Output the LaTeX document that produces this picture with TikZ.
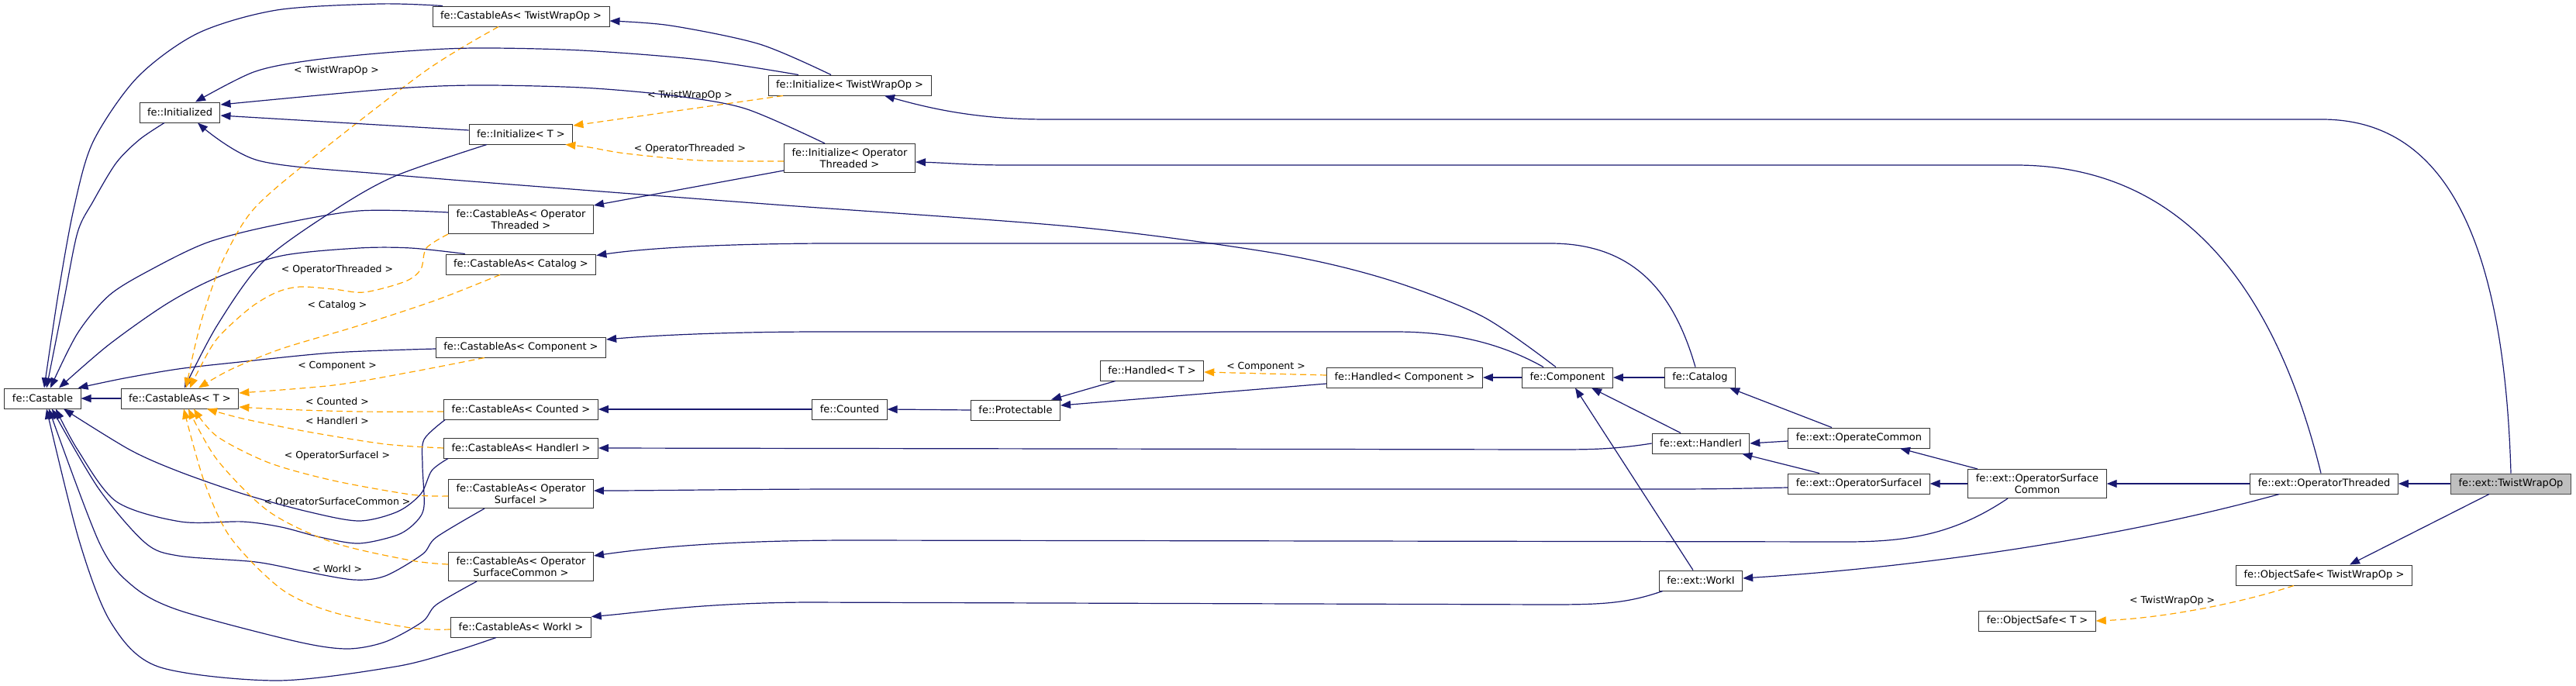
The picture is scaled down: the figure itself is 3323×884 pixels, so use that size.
\documentclass[tikz,border=0pt]{standalone}
\usepackage{fontspec}
\setmainfont{DejaVu Sans}
\usepackage{xcolor}
\usepackage{tikz}
\usetikzlibrary{arrows.meta}

\definecolor{edgeblue}{HTML}{191970}
\definecolor{tmplorange}{HTML}{FFA500}

\begin{document}
\begin{tikzpicture}[
    x=1pt, y=-1pt,
    cls/.style={draw=black!80, line width=1pt, fill=white,
                inner xsep=10pt, inner ysep=6pt, minimum height=26pt,
                align=center, font=\fontsize{13}{15}\selectfont},
    current/.style={cls, fill=black!25, draw=black!70},
    inherit/.style={-{Triangle[length=13pt, width=10pt]}, line width=1.2pt, draw=edgeblue},
    tmpl/.style={-{Triangle[length=13pt, width=10pt]}, line width=1.2pt, draw=tmplorange,
                 dash pattern=on 8pt off 5pt},
    lbl/.style={inner sep=1pt, font=\fontsize{12.5}{14}\selectfont},
  ]

  \useasboundingbox (0,0) rectangle (3323,884);

  % base classes
  \node[cls] (castable) at (55,514)  {fe::Castable};
  \node[cls] (castT)    at (232,514) {fe::CastableAs< T >};
  \node[cls] (initd)    at (232,145) {fe::Initialized};

  % CastableAs column
  \node[cls] (castTW)   at (672,21)  {fe::CastableAs< TwistWrapOp >};
  \node[cls] (initT)    at (672,173) {fe::Initialize< T >};
  \node[cls] (castOT)   at (672,283) {fe::CastableAs< Operator\\Threaded >};
  \node[cls] (castCat)  at (672,341) {fe::CastableAs< Catalog >};
  \node[cls] (castComp) at (672,448) {fe::CastableAs< Component >};
  \node[cls] (castCnt)  at (672,528) {fe::CastableAs< Counted >};
  \node[cls] (castH)    at (672,578) {fe::CastableAs< HandlerI >};
  \node[cls] (castOSI)  at (672,637) {fe::CastableAs< Operator\\SurfaceI >};
  \node[cls] (castOSC)  at (672,731) {fe::CastableAs< Operator\\SurfaceCommon >};
  \node[cls] (castW)    at (672,809) {fe::CastableAs< WorkI >};

  % middle
  \node[cls] (initTW)  at (1096,110) {fe::Initialize< TwistWrapOp >};
  \node[cls] (initOT)  at (1096,204) {fe::Initialize< Operator\\Threaded >};
  \node[cls] (counted) at (1096,528) {fe::Counted};
  \node[cls] (protect) at (1310,529) {fe::Protectable};
  \node[cls] (handT)   at (1486,478) {fe::Handled< T >};
  \node[cls] (handC)   at (1812,487) {fe::Handled< Component >};
  \node[cls] (comp)    at (2022,487) {fe::Component};

  % ext classes
  \node[cls] (catalog)  at (2193,487) {fe::Catalog};
  \node[cls] (handler)  at (2194,572) {fe::ext::HandlerI};
  \node[cls] (worki)    at (2194,749) {fe::ext::WorkI};
  \node[cls] (opCommon) at (2398,565) {fe::ext::OperateCommon};
  \node[cls] (opSurfI)  at (2398,624) {fe::ext::OperatorSurfaceI};
  \node[cls] (opSurfC)  at (2628,624) {fe::ext::OperatorSurface\\Common};
  \node[cls] (opThr)    at (2998,624) {fe::ext::OperatorThreaded};
  \node[current] (twist) at (3239,624) {fe::ext::TwistWrapOp};
  \node[cls] (objTW)    at (2998,742) {fe::ObjectSafe< TwistWrapOp >};
  \node[cls] (objT)     at (2628,801) {fe::ObjectSafe< T >};

  % template labels
  \node[lbl] (lTW1)  at (434,91)   {< TwistWrapOp >};
  \node[lbl] (lOT1)  at (435,348)  {< OperatorThreaded >};
  \node[lbl] (lCat)  at (435,394)  {< Catalog >};
  \node[lbl] (lComp) at (435,472)  {< Component >};
  \node[lbl] (lCnt)  at (435,518)  {< Counted >};
  \node[lbl] (lH)    at (435,543)  {< HandlerI >};
  \node[lbl] (lOSI)  at (435,588)  {< OperatorSurfaceI >};
  \node[lbl] (lOSC)  at (435,648)  {< OperatorSurfaceCommon >};
  \node[lbl] (lW)    at (435,734)  {< WorkI >};
  \node[lbl] (lTW2)  at (890,123)  {< TwistWrapOp >};
  \node[lbl] (lOT2)  at (890,192)  {< OperatorThreaded >};
  \node[lbl] (lComp2) at (1633,473) {< Component >};
  \node[lbl] (lTW3)  at (2802,775) {< TwistWrapOp >};

  % everything -> Castable
  \draw[inherit] (castT.west) -- (castable.east);
  \draw[inherit] plot[smooth] coordinates {([xshift=-101pt]castTW.north) (490,5) (357,13) (255,43)
      (177,100) (120,183) (95,270) (75,380) ([xshift=2pt]castable.north)};
  \draw[inherit] plot[smooth] coordinates {([xshift=-20pt]initd.south) (180,180) (150,210) (120,260)
      (100,300) (82,390) ([xshift=5pt]castable.north)};
  \draw[inherit] plot[smooth] coordinates {([yshift=9pt]castOT.west) (463,272) (347,292) (267,313)
      (200,345) (142,380) (100,430) ([xshift=10pt]castable.north)};
  \draw[inherit] plot[smooth] coordinates {([xshift=-72pt]castCat.north) (530,320) (463,320) (363,330)
      (280,358) (215,392) (140,445) ([xshift=21pt]castable.north)};
  \draw[inherit] plot[smooth] coordinates {([yshift=-2pt]castComp.west) (430,455) (300,468) (230,476)
      (160,488) ([xshift=-4pt]castable.north east)};
  \draw[inherit] plot[smooth] coordinates {([xshift=2pt]castCnt.south west) (547,567) (545,600) (547,653)
      (537,673) (513,690) (463,701) (413,693) (363,680) (313,673) (233,673) (150,647) (100,580)
      ([xshift=17pt]castable.south)};
  \draw[inherit] plot[smooth] coordinates {([xshift=6pt]castH.south west) (557,607) (543,637) (513,660)
      (463,672) (397,660) (313,637) (230,608) (167,580) ([xshift=27pt]castable.south)};
  \draw[inherit] plot[smooth] coordinates {([xshift=-47pt]castOSI.south) (563,693) (545,715) (497,743)
      (457,748) (397,738) (330,725) (230,717) (187,700) (127,630) ([xshift=12pt]castable.south)};
  \draw[inherit] plot[smooth] coordinates {([xshift=-57pt]castOSC.south) (563,780) (545,802) (497,828)
      (447,837) (380,827) (230,787) (170,755) (128,700) ([xshift=8pt]castable.south)};
  \draw[inherit] plot[smooth] coordinates {([xshift=-32pt]castW.south) (587,840) (510,860) (357,878)
      (204,860) (143,803) (102,697) ([xshift=5pt]castable.south)};

  % CastableAs< T > instances
  \draw[inherit] plot[smooth] coordinates {([xshift=-44pt]initT.south) (510,227) (433,270) (340,337)
      (280,420) ([xshift=6pt]castT.north)};
  \draw[tmpl] plot[smooth] coordinates {([xshift=-29pt]castTW.south) (551,90) (408,200) (327,270)
      (287,337) (263,403) (250,453) ([xshift=8pt]castT.north)};
  \draw[tmpl] plot[smooth] coordinates {(castOT.south west) (550,320) (543,347) (523,363) (470,377)
      (430,373) (387,370) (357,377) (323,397) (280,437) (255,480) ([xshift=13pt]castT.north)};
  \draw[tmpl] plot[smooth] coordinates {([xshift=-27pt]castCat.south) (563,387) (463,420) (363,450)
      (297,477) ([xshift=24pt]castT.north)};
  \draw[tmpl] plot[smooth] coordinates {([xshift=-47pt]castComp.south) (530,480) (430,497)
      ([yshift=7pt]castT.east)};
  \draw[tmpl] plot[smooth] coordinates {([yshift=-3pt]castCnt.west) (463,531) (363,528)
      ([yshift=-11pt]castT.east)};
  \draw[tmpl] plot[smooth] coordinates {(castH.west) (497,573) (397,557) (313,540)
      ([xshift=35pt]castT.south)};
  \draw[tmpl] plot[smooth] coordinates {([yshift=-3pt]castOSI.west) (530,638) (430,620) (347,597)
      (280,563) ([xshift=18pt]castT.south)};
  \draw[tmpl] plot[smooth] coordinates {([yshift=3pt]castOSC.west) (530,723) (430,700) (347,660)
      (280,593) ([xshift=11pt]castT.south)};
  \draw[tmpl] plot[smooth] coordinates {([yshift=-3pt]castW.west) (530,810) (430,790) (363,760)
      (297,693) (263,620) ([xshift=5pt]castT.south)};

  % -> Initialized
  \draw[inherit] plot[smooth] coordinates {([xshift=-66pt]initTW.north) (903,77) (750,65) (612,62)
      (510,67) (400,78) (327,93) ([xshift=20pt]initd.north)};
  \draw[inherit] plot[smooth] coordinates {([xshift=-32pt]initOT.north) (961,140) (865,123) (750,113)
      (612,110) (500,115) ([yshift=10pt]initd.east)};
  \draw[inherit] ([yshift=5pt]initT.west) -- ([yshift=-4pt]initd.east);
  \draw[inherit] plot[smooth] coordinates {([xshift=-15pt]comp.north) (1912,408) (1788,360) (1647,327)
      (1390,293) (1000,264) (750,245) (500,225) (333,207) ([xshift=23pt]initd.south)};

  % Initialize< T > instances
  \draw[tmpl] ([xshift=-86pt]initTW.south) -- ([yshift=11pt]initT.east);
  \draw[tmpl] plot[smooth] coordinates {([yshift=-4pt]initOT.west) (903,207) (807,198) (760,190)
      ([xshift=-10pt]initT.south east)};
  \draw[inherit] plot[smooth] coordinates {([xshift=-24pt]initTW.north) (980,57) (865,33)
      ([yshift=-6pt]castTW.east)};
  \draw[inherit] ([yshift=-16pt]initOT.west) -- ([yshift=-1pt]castOT.north east);

  % long edges from the right
  \draw[inherit] (twist.north) .. controls (3230,300) and (3150,154) .. (2995,154)
      -- (1351,154) .. controls (1260,154) and (1200,140) .. ([xshift=45pt]initTW.south);
  \draw[inherit] ([xshift=-4pt]opThr.north) .. controls (2930,350) and (2800,213) .. (2600,213)
      -- (1300,213) .. controls (1250,213) and (1220,210) .. ([yshift=-5pt]initOT.east);
  \draw[inherit] ([xshift=-6pt]catalog.north) .. controls (2160,380) and (2110,314) .. (2000,314)
      -- (1060,314) .. controls (900,315) and (820,322) .. ([yshift=-2pt]castCat.north east);
  \draw[inherit] ([xshift=-31pt]comp.north) .. controls (1940,445) and (1880,428) .. (1800,428)
      -- (1060,428) .. controls (950,428) and (850,432) .. ([yshift=10pt]castComp.east);
  \draw[inherit] (handler.west) .. controls (2080,580) and (2050,580) .. (2000,580)
      -- (castH.east);
  \draw[inherit] ([yshift=-5pt]opSurfI.west) .. controls (2250,630) and (2220,631) .. (2150,631)
      -- (1100,631) .. controls (950,631) and (850,633) .. ([yshift=4pt]castOSI.east);
  \draw[inherit] ([xshift=-38pt]opSurfC.south) .. controls (2520,690) and (2460,699) .. (2380,699)
      -- (1100,697) .. controls (950,697) and (850,705) .. ([yshift=14pt]castOSC.east);
  \draw[inherit] ([xshift=5pt]worki.south west) .. controls (2100,778) and (2070,780) .. (2000,780)
      -- (1040,777) .. controls (900,778) and (830,790) .. (castW.north east);

  % Counted / Protectable / Handled
  \draw[inherit] (counted.west) -- (castCnt.east);
  \draw[inherit] (protect.west) -- (counted.east);
  \draw[inherit] ([xshift=-47pt]handT.south) -- ([xshift=-12pt]protect.north east);
  \draw[inherit] ([yshift=-8pt]handC.west) -- ([yshift=6pt]protect.east);
  \draw[tmpl] ([yshift=3pt]handC.west) -- ([yshift=-2pt]handT.east);
  \draw[inherit] (comp.west) -- (handC.east);

  % ext hierarchy
  \draw[inherit] (catalog.west) -- (comp.east);
  \draw[inherit] ([xshift=-26pt]handler.north) -- ([xshift=31pt]comp.south);
  \draw[inherit] ([xshift=-10pt]worki.north) -- ([xshift=10pt]comp.south);
  \draw[inherit] ([xshift=-35pt]opCommon.north) -- ([xshift=-8pt]catalog.south east);
  \draw[inherit] ([yshift=-4pt]opCommon.west) -- (handler.east);
  \draw[inherit] ([xshift=-51pt]opSurfI.north) -- ([xshift=-10pt]handler.south east);
  \draw[inherit] ([xshift=-77pt]opSurfC.north) -- ([xshift=53pt]opCommon.south);
  \draw[inherit] (opSurfC.west) -- (opSurfI.east);
  \draw[inherit] (opThr.west) -- (opSurfC.east);
  \draw[inherit] ([xshift=38pt]opThr.south west) .. controls (2750,690) and (2500,730) .. ([yshift=3pt]worki.east);
  \draw[inherit] (twist.west) -- (opThr.east);
  \draw[inherit] ([xshift=-28pt]twist.south) -- ([xshift=33pt]objTW.north);
  \draw[tmpl] ([xshift=-39pt]objTW.south) .. controls (2900,775) and (2800,797) .. (objT.east);

\end{tikzpicture}
\end{document}
